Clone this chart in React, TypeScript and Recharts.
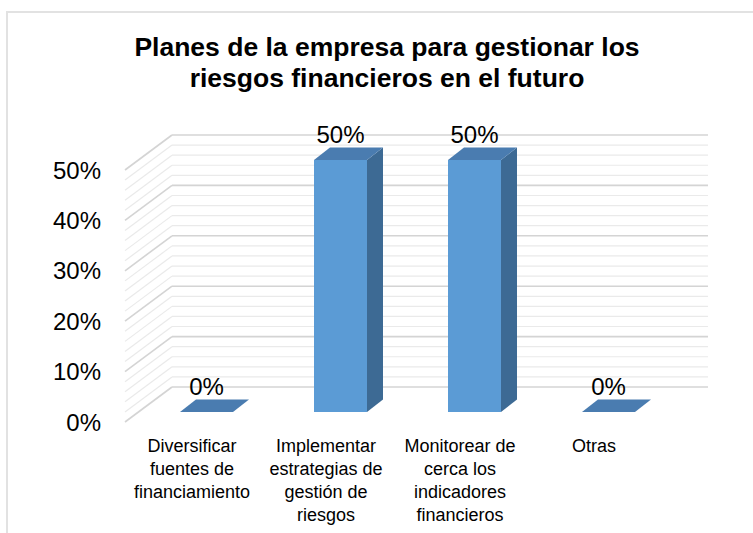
import React from 'react';
import { BarChart, Bar, XAxis, YAxis, CartesianGrid, LabelList } from 'recharts';

const categories = [
  'Diversificar\nfuentes de\nfinanciamiento',
  'Implementar\nestrategias de\ngestión de\nriesgos',
  'Monitorear de\ncerca los\nindicadores\nfinancieros',
  'Otras',
];
const values = [0, 50, 50, 0];
// gridlines every 2%, labelled every 10%
const yTicks = [0, 2, 4, 6, 8, 10, 12, 14, 16, 18, 20, 22, 24, 26, 28, 30, 32, 34, 36, 38, 40, 42, 44, 46, 48, 50];

const titleLines = ['Planes de la empresa para gestionar los', 'riesgos financieros en el futuro'];

// depth of the back wall and of the bars (fake 3D)
const DX = 47;
const DY = 35;
const OX = 14;
const OY = 10;
const BDX = 16;
const BDY = 12.5;

const FONT = '"Liberation Sans", Arial, sans-serif';

const data = categories.map((name, i) => ({ name, value: values[i] }));

const wallLine = (props: any) => {
  const { x1, y1, x2, index } = props;
  const major = index % 5 === 0;
  const stroke = major ? '#D4D4D4' : '#EAEAEA';
  const w = major ? 1.6 : 1.2;
  return (
    <g key={`g-${y1}`}>
      <line x1={x1} y1={y1} x2={x1 + DX} y2={y1 - DY} stroke={stroke} strokeWidth={w} />
      <line x1={x1 + DX} y1={y1 - DY} x2={x2 + DX} y2={y1 - DY} stroke={stroke} strokeWidth={w} />
    </g>
  );
};

const Box3D = (props: any) => {
  const { x, y, width, height } = props;
  const fx = x + OX;
  const fy = y - OY;
  const top = `${fx},${fy} ${fx + width},${fy} ${fx + width + BDX},${fy - BDY} ${fx + BDX},${fy - BDY}`;
  const side = `${fx + width},${fy} ${fx + width + BDX},${fy - BDY} ${fx + width + BDX},${fy + height - BDY} ${fx + width},${fy + height}`;
  return (
    <g>
      {height > 0 && <rect x={fx} y={fy} width={width} height={height} fill="#5B9BD5" />}
      {height > 0 && <polygon points={side} fill="#3D6A94" />}
      <polygon points={top} fill="#4A7CB0" />
    </g>
  );
};

const BarValue = (props: any) => {
  const { x, y, width, value } = props;
  return (
    <text x={x + width / 2 + OX} y={y - OY - 17} textAnchor="middle" fontFamily={FONT} fontSize={24} fill="#000">
      {`${value}%`}
    </text>
  );
};

const CategoryTick = (props: any) => {
  const { x, y, payload } = props;
  const lines = String(payload.value).split('\n');
  return (
    <text x={x} y={y} textAnchor="middle" fontFamily={FONT} fontSize={18} fill="#000">
      {lines.map((l, i) => (
        <tspan key={i} x={x} y={y + 30 + i * 23}>
          {l}
        </tspan>
      ))}
    </text>
  );
};

export default function App() {
  return (
    <div style={{ position: 'absolute', left: 0, top: 0, width: 753, height: 533, overflow: 'hidden', background: '#fff' }}>
      <div
        style={{
          position: 'absolute',
          left: 6,
          top: 11,
          width: 800,
          height: 600,
          border: '2px solid #E2E2E2',
          boxSizing: 'border-box',
        }}
      />
      <div
        style={{
          position: 'absolute',
          left: 87,
          top: 32,
          width: 600,
          textAlign: 'center',
          fontFamily: FONT,
          fontWeight: 'bold',
          fontSize: 26.5,
          lineHeight: '31px',
          color: '#000',
        }}
      >
        {titleLines.map((t) => (
          <div key={t}>{t}</div>
        ))}
      </div>
      <div style={{ position: 'absolute', left: 0, top: 0 }}>
        <BarChart width={753} height={533} data={data} margin={{ top: 170, right: 92, bottom: 11, left: 65 }} barSize={53}>
          <CartesianGrid vertical={false} horizontal={wallLine} />
          <XAxis
            dataKey="name"
            height={100}
            axisLine={false}
            tickLine={false}
            tickSize={0}
            tickMargin={0}
            interval={0}
            tick={<CategoryTick />}
          />
          <YAxis
            width={60}
            domain={[0, 50]}
            ticks={yTicks}
            interval={0}
            axisLine={false}
            tickLine={false}
            tickSize={0}
            tickMargin={24}
            tickFormatter={(v: number) => (v % 10 === 0 ? `${v}%` : '')}
            tick={{ fontFamily: FONT, fontSize: 24, fill: '#000' }}
          />
          <Bar dataKey="value" shape={<Box3D />} isAnimationActive={false}>
            <LabelList dataKey="value" content={<BarValue />} />
          </Bar>
        </BarChart>
      </div>
    </div>
  );
}
